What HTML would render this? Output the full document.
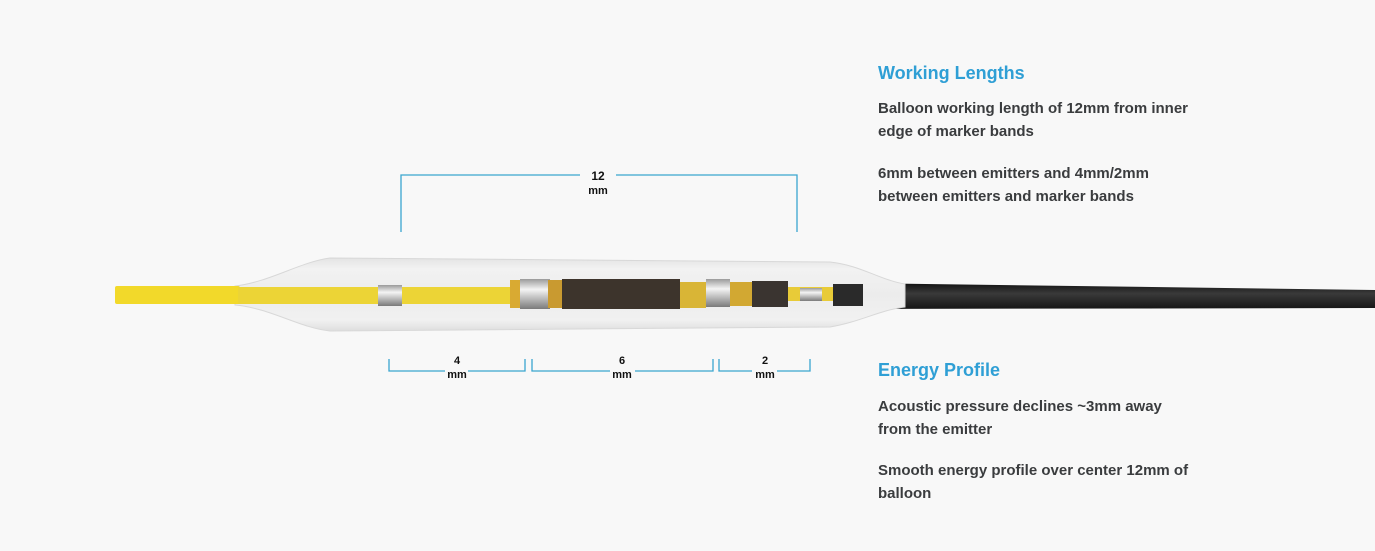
<!DOCTYPE html>
<html><head><meta charset="utf-8"><style>
html,body{margin:0;padding:0;background:#f8f8f8;}
body{width:1375px;height:551px;position:relative;overflow:hidden;font-family:"Liberation Sans",sans-serif;}
.h{position:absolute;left:878px;color:#2f9fd5;font-weight:bold;font-size:18px;}
.p{position:absolute;left:878px;color:#3a3c3e;font-weight:bold;font-size:15px;line-height:23px;width:316px;}
svg{position:absolute;left:0;top:0;}
</style></head><body>
<svg width="1375" height="551">
<defs>
<linearGradient id="bal" x1="0" y1="0" x2="0" y2="1">
<stop offset="0" stop-color="#e4e4e4"/><stop offset="0.15" stop-color="#f2f2f2"/><stop offset="0.5" stop-color="#ececec"/><stop offset="0.85" stop-color="#f1f1f1"/><stop offset="1" stop-color="#dedede"/></linearGradient>
<linearGradient id="blk" x1="0" y1="0" x2="0" y2="1"><stop offset="0" stop-color="#111"/><stop offset="0.4" stop-color="#3a3a3a"/><stop offset="1" stop-color="#151515"/></linearGradient>
<linearGradient id="met" x1="0" y1="0" x2="0" y2="1"><stop offset="0" stop-color="#9a9a9a"/><stop offset="0.35" stop-color="#f4f4f4"/><stop offset="1" stop-color="#7a7a7a"/></linearGradient>
</defs>
<path d="M850 283 L1375 290 L1375 308 L850 309 Z" fill="url(#blk)"/>
<path d="M235 286 C270 282 300 262 330 258 L830 262 C860 265 880 280 905 284 L905 307 C880 310 860 322 830 327 L330 331 C300 328 270 308 235 305 Z" fill="url(#bal)" stroke="#d8d8d8"/>
<rect x="115" y="286" width="125" height="18" rx="2" fill="#f2d92a"/>
<rect x="238" y="287" width="275" height="17" fill="#ecd436"/>
<rect x="378" y="285" width="24" height="21" fill="url(#met)"/>
<rect x="510" y="280" width="12" height="28" fill="#d9aa32"/>
<rect x="520" y="279" width="30" height="30" fill="url(#met)"/>
<rect x="548" y="280" width="20" height="28" fill="#c99a30"/>
<rect x="562" y="279" width="118" height="30" fill="#3d342c"/>
<rect x="680" y="282" width="26" height="26" fill="#d9b536"/>
<rect x="706" y="279" width="24" height="28" fill="url(#met)"/>
<rect x="730" y="282" width="25" height="24" fill="#d2a832"/>
<rect x="752" y="281" width="36" height="26" fill="#3a3430"/>
<rect x="788" y="287" width="45" height="14" fill="#e8cb38"/>
<rect x="800" y="288" width="22" height="13" fill="url(#met)"/>
<rect x="833" y="284" width="30" height="22" fill="#2a2a2a"/>
<g stroke="#3aa6cf" stroke-width="1.3" fill="none">
<path d="M401 232 V175 H580 M616 175 H797 V232"/>
<path d="M389 359 V371 H445 M468 371 H525 V359"/>
<path d="M532 359 V371 H610 M635 371 H713 V359"/>
<path d="M719 359 V371 H752 M777 371 H810 V359"/>
</g>
<g font-family="Liberation Sans,sans-serif" font-weight="bold" font-size="11" fill="#111" text-anchor="middle">
<text x="598" y="180" font-size="12">12</text><text x="598" y="194">mm</text>
<text x="457" y="364">4</text><text x="457" y="378">mm</text>
<text x="622" y="364">6</text><text x="622" y="378">mm</text>
<text x="765" y="364">2</text><text x="765" y="378">mm</text>
</g>
</svg>
<div class="h" style="top:63px">Working Lengths</div>
<div class="p" style="top:97px">Balloon working length of 12mm from inner edge of marker bands</div>
<div class="p" style="top:162px">6mm between emitters and 4mm/2mm between emitters and marker bands</div>
<div class="h" style="top:360px">Energy Profile</div>
<div class="p" style="top:395px">Acoustic pressure declines ~3mm away from the emitter</div>
<div class="p" style="top:459px">Smooth energy profile over center 12mm of balloon</div>
</body></html>
